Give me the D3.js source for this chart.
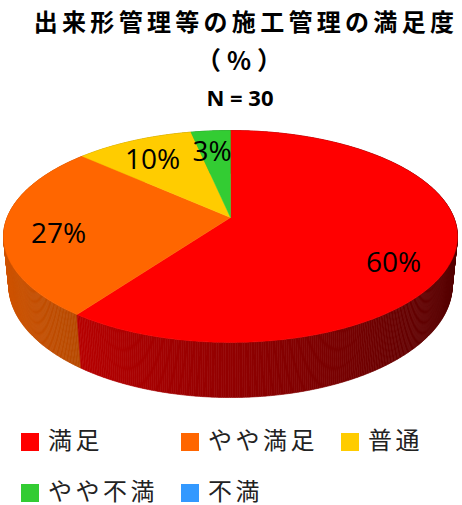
<!DOCTYPE html>
<html>
<head>
<meta charset="utf-8">
<script src="https://cdn.jsdelivr.net/npm/d3@7"></script>
<style>
  body { margin: 0; background: #fff; }
  svg { display: block; }
</style>
</head>
<body>
<svg id="chart"></svg>
<script>
// données (N = 30 réponses)
const categories = ["満足", "やや満足", "普通", "やや不満", "不満"];
const counts = [18, 8, 3, 1, 0];
const pctLabels = ["60%", "27%", "10%", "3%", ""];
const colors = ["#ff0000", "#ff6600", "#ffcc00", "#33cc33", "#3399ff"];

const svg = d3.select("#chart").attr("width", 462).attr("height", 505);

// projection 3D du camembert (disque de rayon 1, épaisseur h)
const cx = 230.5, cy = 217.5;
const sinA = 0.4593, cosA = Math.sqrt(1 - sinA * sinA);
const d = 4.962, f = 1108, h = 0.249;

function project(x, y, z) {
  const v = y * cosA + z * sinA;
  const w = z * cosA - y * sinA;
  const s = f / (d + w);
  return [cx + x * s, cy - v * s];
}

const pie = d3.pie().sort(null).value(v => v);
const arcs = pie(counts);
const line = d3.line();
const step = Math.PI / 360;

function angles(a0, a1) {
  const n = Math.max(1, Math.ceil((a1 - a0) / step));
  return d3.range(n + 1).map(i => a0 + (a1 - a0) * i / n);
}

// ombrage des côtés : plus clair à gauche, plus sombre à droite
function shade(i, m) {
  const c = d3.rgb(colors[i]);
  const b = 0.57 - 0.25 * Math.sin(m);
  return d3.rgb(c.r * b, c.g * b, c.b * b).formatHex();
}

// faces latérales (du fond vers l'avant)
const facets = [];
arcs.forEach((a, i) => {
  if (a.endAngle - a.startAngle <= 0) return;
  const t = angles(a.startAngle, a.endAngle);
  for (let k = 0; k < t.length - 1; k++) {
    const m = (t[k] + t[k + 1]) / 2;
    facets.push({ i, t0: t[k], t1: t[k + 1], m, depth: Math.cos(m) });
  }
});
facets.sort((p, q) => q.depth - p.depth);

svg.append("g").selectAll("path")
  .data(facets)
  .join("path")
  .attr("d", p => line([
    project(Math.sin(p.t0), 0, Math.cos(p.t0)),
    project(Math.sin(p.t1), 0, Math.cos(p.t1)),
    project(Math.sin(p.t1), -h, Math.cos(p.t1)),
    project(Math.sin(p.t0), -h, Math.cos(p.t0))
  ]) + "Z")
  .attr("fill", p => shade(p.i, p.m))
  .attr("stroke", p => shade(p.i, p.m))
  .attr("stroke-width", 0.6);

// dessus du camembert
svg.append("g").selectAll("path")
  .data(arcs.filter(a => a.endAngle > a.startAngle))
  .join("path")
  .attr("d", a => line([project(0, 0, 0)].concat(
    angles(a.startAngle, a.endAngle).map(t => project(Math.sin(t), 0, Math.cos(t)))
  )) + "Z")
  .attr("fill", (a, i) => colors[i])
  .attr("stroke", (a, i) => colors[i])
  .attr("stroke-width", 0.5);

// étiquettes de pourcentage
function labelPos(a) {
  const m = (a.startAngle + a.endAngle) / 2;
  const p = project(0.75 * Math.sin(m), 0, 0.75 * Math.cos(m));
  return [p[0], p[1] + Math.max(0, -Math.cos(m)) * 60];
}

svg.append("g").selectAll("text")
  .data(arcs.filter(a => a.endAngle > a.startAngle))
  .join("text")
  .attr("x", a => labelPos(a)[0] - 3)
  .attr("y", a => labelPos(a)[1])
  .attr("text-anchor", "middle")
  .attr("dominant-baseline", "central")
  .attr("font-family", "'Open Sans', 'Liberation Sans', sans-serif")
  .attr("font-size", 28)
  .attr("fill", "#000")
  .text(a => pctLabels[a.index]);

// titres
svg.append("text")
  .attr("x", 246).attr("y", 31)
  .attr("text-anchor", "middle")
  .attr("font-family", "'Noto Sans CJK JP', sans-serif")
  .attr("font-weight", "bold")
  .attr("font-size", 24)
  .attr("letter-spacing", 4.3)
  .text("出来形管理等の施工管理の満足度");

svg.append("text")
  .attr("x", 242).attr("y", 70)
  .attr("text-anchor", "middle")
  .attr("font-family", "'Noto Sans CJK JP', sans-serif")
  .attr("font-weight", "bold")
  .attr("font-size", 25)
  .attr("letter-spacing", 6)
  .text("（%）");

svg.append("text")
  .attr("x", 240).attr("y", 106)
  .attr("text-anchor", "middle")
  .attr("font-family", "'Open Sans', 'Liberation Sans', sans-serif")
  .attr("font-weight", "bold")
  .attr("font-size", 22)
  .text("N = 30");

// légende
const legend = svg.append("g").selectAll("g")
  .data(categories)
  .join("g")
  .attr("transform", (c, i) => `translate(${21 + (i % 3) * 160},${442 + Math.floor(i / 3) * 51})`);

legend.append("rect")
  .attr("x", 0).attr("y", -9)
  .attr("width", 18).attr("height", 18)
  .attr("fill", (c, i) => colors[i]);

legend.append("text")
  .attr("x", 27).attr("y", -4)
  .attr("dominant-baseline", "central")
  .attr("font-family", "'Noto Sans CJK JP', sans-serif")
  .attr("font-size", 24)
  .attr("letter-spacing", 3.5)
  .attr("fill", "#222")
  .text(c => c);
</script>
</body>
</html>
